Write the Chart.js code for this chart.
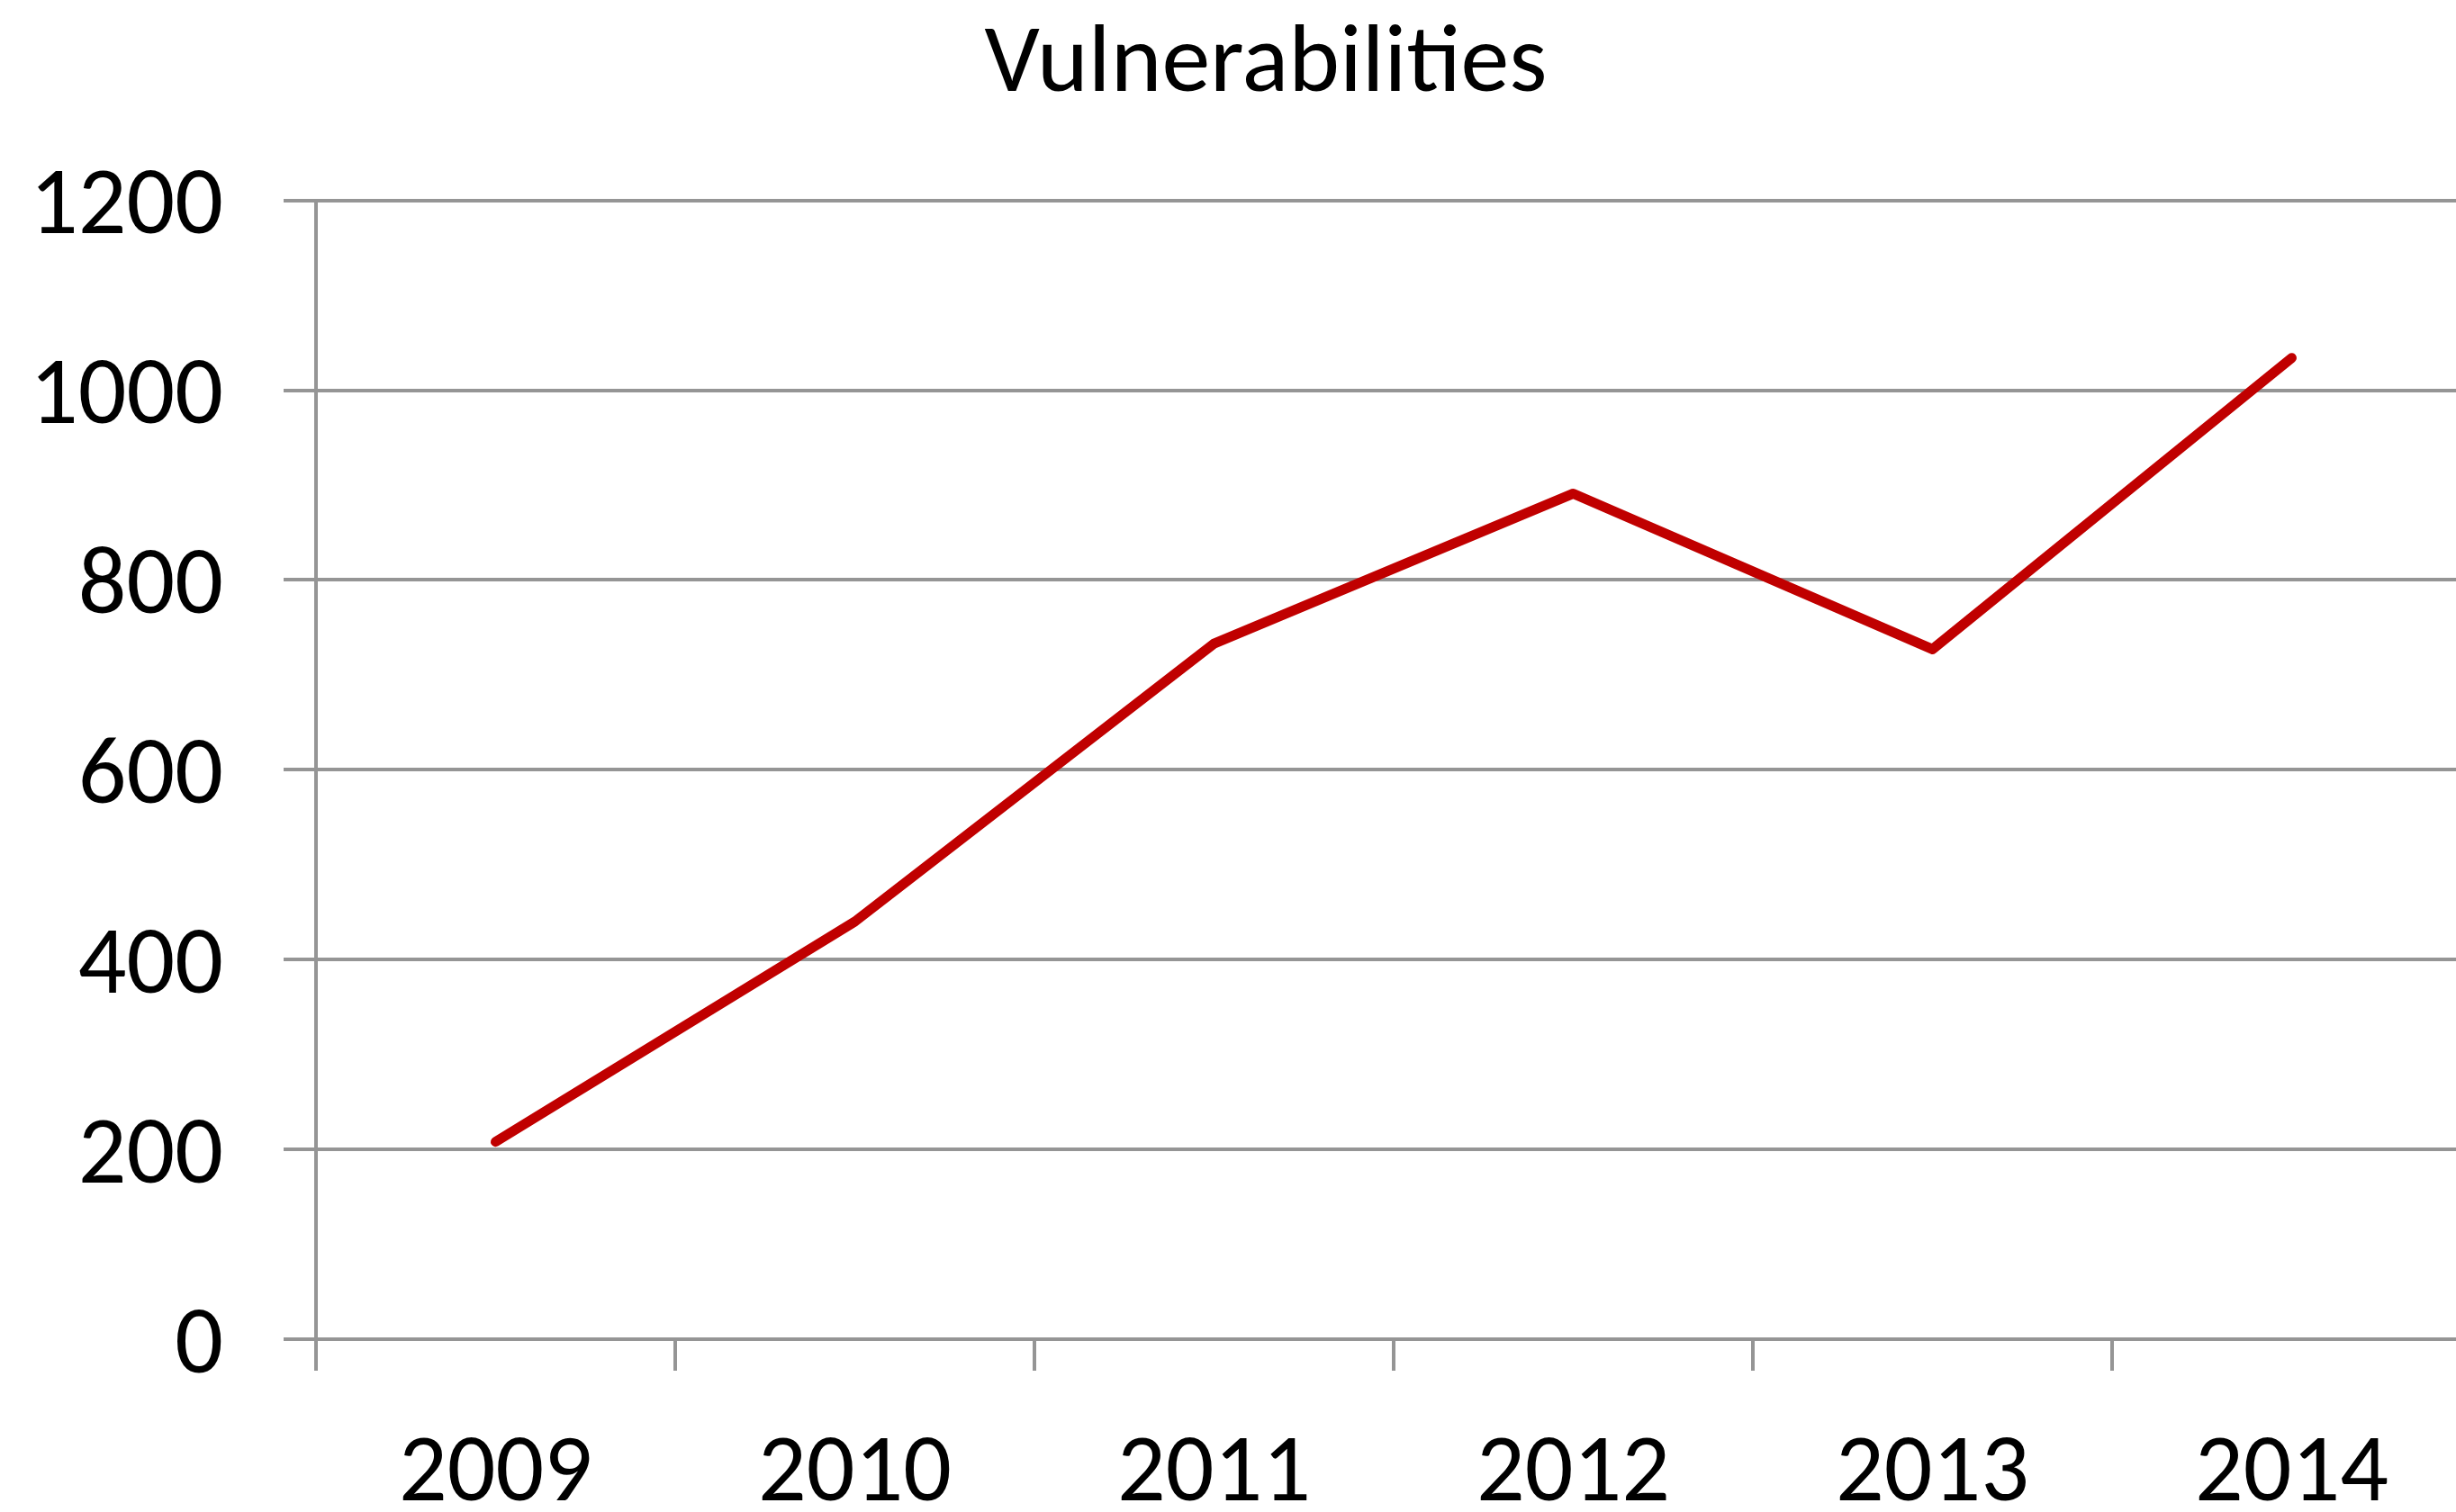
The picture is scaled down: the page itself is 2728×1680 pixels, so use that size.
<!DOCTYPE html>
<html>
<head>
<meta charset="utf-8">
<style>
  html, body { margin: 0; padding: 0; background: #ffffff; overflow: hidden; width: 2728px; height: 1680px; }
  #wrap { width: 2760px; height: 1680px; }
  canvas { display: block; }
</style>
<script src="https://cdn.jsdelivr.net/npm/chart.js@4.4.0/dist/chart.umd.min.js"></script>
</head>
<body>
<div id="wrap"><canvas id="c" width="2760" height="1680"></canvas></div>
<script>
const titleText = 'Vulnerabilities';
const categories = ['2009', '2010', '2011', '2012', '2013', '2014'];
const vulnerabilities = [208, 440, 733, 891, 727, 1034];
const yTicks = [0, 200, 400, 600, 800, 1000, 1200];

const FONT = "Carlito, Lato, 'Open Sans', sans-serif";
const GRID = '#959595';

new Chart(document.getElementById('c'), {
  type: 'line',
  data: {
    labels: categories,
    datasets: [{
      label: titleText,
      data: vulnerabilities,
      borderColor: '#c00000',
      backgroundColor: '#c00000',
      borderWidth: 11,
      borderCapStyle: 'round',
      borderJoinStyle: 'round',
      pointRadius: 0,
      pointHoverRadius: 0,
      tension: 0,
      fill: false
    }]
  },
  options: {
    responsive: false,
    devicePixelRatio: 1,
    animation: false,
    layout: { padding: { left: 67, right: 15, top: 0, bottom: 0 } },
    plugins: {
      legend: { display: false },
      tooltip: { enabled: false },
      title: {
        display: true,
        text: titleText,
        color: '#000000',
        font: { family: FONT, size: 108, weight: 'normal', lineHeight: 1.2 },
        padding: { top: 9, bottom: 84 }
      }
    },
    scales: {
      x: {
        type: 'category',
        offset: true,
        grid: {
          offset: true,
          drawOnChartArea: false,
          drawTicks: true,
          tickLength: 35,
          color: GRID,
          lineWidth: 4
        },
        border: { display: true, color: GRID, width: 4 },
        ticks: {
          color: '#000000',
          font: { family: FONT, size: 106, lineHeight: 1.2 },
          padding: 54,
          maxRotation: 0,
          autoSkip: false
        },
        afterFit: (s) => { s.height = 192; }
      },
      y: {
        min: 0,
        max: 1200,
        afterBuildTicks: (s) => { s.ticks = yTicks.map(v => ({ value: v })); },
        grid: {
          drawTicks: true,
          tickLength: 36,
          color: GRID,
          lineWidth: 4
        },
        border: { display: true, color: GRID, width: 4 },
        ticks: {
          color: '#000000',
          font: { family: FONT, size: 106, lineHeight: 1.2 },
          padding: 67,
          labelOffset: 10,
          callback: (v) => String(v)
        },
        afterFit: (s) => {
          s.width = 284;
          s._computeLabelArea = () => undefined;
        }
      }
    }
  }
});
</script>
</body>
</html>
